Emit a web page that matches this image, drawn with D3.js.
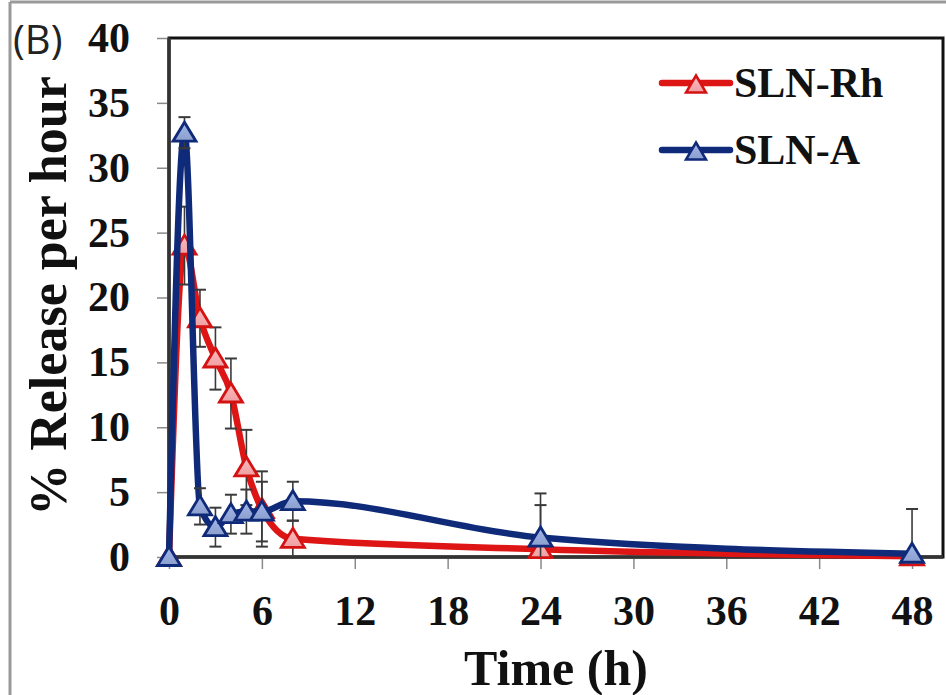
<!DOCTYPE html>
<html>
<head>
<meta charset="utf-8">
<script src="https://cdn.jsdelivr.net/npm/d3@7"></script>
<style>
  html, body { margin: 0; padding: 0; background: #fff; }
  svg { display: block; }
</style>
</head>
<body>
<script>
// ---- data ----
const times = [0, 1, 2, 3, 4, 5, 6, 8, 24, 48];
const rhValues = [0, 24.0, 18.4, 15.3, 12.6, 6.9, 3.7, 1.4, 0.6, 0.05];
const rhErrors = [0, 3.0, 2.2, 2.4, 2.7, 2.9, 2.9, 1.4, 3.4, 0];
const aValues = [0, 32.7, 3.9, 2.3, 3.3, 3.5, 3.5, 4.3, 1.5, 0.25];
const aErrors = [0, 1.2, 1.4, 1.5, 1.5, 1.7, 2.3, 1.5, 3.4, 3.45];
const seriesNames = ["SLN-Rh", "SLN-A"];
const xTicks = [0, 6, 12, 18, 24, 30, 36, 42, 48];
const yTicks = [0, 5, 10, 15, 20, 25, 30, 35, 40];

const W = 946, H = 695;
const svg = d3.select("body").append("svg").attr("width", W).attr("height", H);
svg.append("rect").attr("width", W).attr("height", H).attr("fill", "#fff");

// outer frame (gray)
svg.append("line").attr("x1", 10).attr("x2", 10).attr("y1", 2).attr("y2", H)
  .attr("stroke", "#9a9a9a").attr("stroke-width", 3);
svg.append("line").attr("x1", 10).attr("x2", W).attr("y1", 2).attr("y2", 2)
  .attr("stroke", "#9a9a9a").attr("stroke-width", 3);

const x = d3.scaleLinear().domain([0, 50]).range([169, 943]);
const y = d3.scaleLinear().domain([0, 40]).range([557, 38]);

const serif = "'Liberation Serif', 'Times New Roman', serif";

// plot border
svg.append("rect")
  .attr("x", x(0)).attr("y", y(40))
  .attr("width", x(50) - x(0)).attr("height", y(0) - y(40))
  .attr("fill", "none").attr("stroke", "#111").attr("stroke-width", 3);

// axes
const yAxis = svg.append("g").attr("transform", `translate(${x(0)},0)`)
  .call(d3.axisLeft(y).tickValues(yTicks).tickSize(12).tickPadding(27));
const xAxis = svg.append("g").attr("transform", `translate(0,${y(0)})`)
  .call(d3.axisBottom(x).tickValues(xTicks).tickSize(12).tickPadding(26));
[yAxis, xAxis].forEach(g => {
  g.select(".domain").remove();
  g.selectAll(".tick line").attr("stroke", "#8a8a8a").attr("stroke-width", 1.5);
  g.selectAll(".tick text").attr("fill", "#111")
    .style("font-family", serif).style("font-weight", "bold").style("font-size", "42px");
});

// left & bottom axis lines (dark)
svg.append("line").attr("x1", x(0)).attr("x2", x(0)).attr("y1", y(40)).attr("y2", y(0))
  .attr("stroke", "#333").attr("stroke-width", 3.5);
svg.append("line").attr("x1", x(0)).attr("x2", x(50)).attr("y1", y(0)).attr("y2", y(0))
  .attr("stroke", "#333").attr("stroke-width", 3.5);

// clip
svg.append("clipPath").attr("id", "plotclip").append("rect")
  .attr("x", x(0)).attr("y", y(40)).attr("width", x(50) - x(0)).attr("height", y(0) - y(40));

const series = [
  { name: seriesNames[0], values: rhValues, errors: rhErrors, line: "#dd1515", stroke: "#d41212", fill: "#eea0a4" },
  { name: seriesNames[1], values: aValues, errors: aErrors, line: "#0f2a78", stroke: "#0f2a78", fill: "#8c9fcd" }
];

const defs = svg.append("defs");
series.forEach((s, i) => {
  const g = defs.append("linearGradient").attr("id", "grad" + i)
    .attr("x1", 0).attr("y1", 0).attr("x2", 0).attr("y2", 1);
  g.append("stop").attr("offset", "0%").attr("stop-color", d3.color(s.fill).brighter(0.4));
  g.append("stop").attr("offset", "100%").attr("stop-color", s.fill);
});

const tri = (cx, cy, w = 23, h = 19) =>
  `M${cx},${cy - h / 2 - 1}L${cx + w / 2},${cy + h / 2 - 1}L${cx - w / 2},${cy + h / 2 - 1}Z`;

const lineGen = d3.line().x(d => x(d[0])).y(d => y(d[1])).curve(d3.curveMonotoneX);

series.forEach((s, i) => {
  const pts = times.map((t, k) => [t, s.values[k], s.errors[k]]);
  const g = svg.append("g");
  g.append("path").datum(pts).attr("d", lineGen)
    .attr("fill", "none").attr("stroke", s.line).attr("stroke-width", 6.5)
    .attr("stroke-linejoin", "round").attr("stroke-linecap", "round");
  const eb = g.append("g").attr("clip-path", "url(#plotclip)");
  pts.filter(d => d[2] > 0).forEach(d => {
    const cx = x(d[0]), top = y(d[1] + d[2]), bot = y(d[1] - d[2]);
    eb.append("line").attr("x1", cx).attr("x2", cx).attr("y1", top).attr("y2", bot)
      .attr("stroke", "#3a3a3a").attr("stroke-width", 1.6);
    [top, bot].forEach(yy => eb.append("line").attr("x1", cx - 6).attr("x2", cx + 6)
      .attr("y1", yy).attr("y2", yy).attr("stroke", "#3a3a3a").attr("stroke-width", 2));
  });
  g.selectAll("path.mk").data(pts).enter().append("path").attr("class", "mk")
    .attr("d", d => tri(x(d[0]), y(d[1])))
    .attr("fill", `url(#grad${i})`).attr("stroke", s.stroke).attr("stroke-width", 2.8)
    .attr("stroke-linejoin", "miter");
});

// legend
series.forEach((s, i) => {
  const ly = 83 + i * 67;
  const g = svg.append("g");
  g.append("line").attr("x1", 662).attr("x2", 730).attr("y1", ly).attr("y2", ly)
    .attr("stroke", s.line).attr("stroke-width", 6.5).attr("stroke-linecap", "round");
  g.append("path").attr("d", tri(696, ly + 2, 20, 17))
    .attr("fill", `url(#grad${i})`).attr("stroke", s.stroke).attr("stroke-width", 2.5);
  g.append("text").attr("x", 734).attr("y", ly + 14).text(s.name)
    .attr("fill", "#111").style("font-family", serif).style("font-weight", "bold").style("font-size", "42px");
});

// titles
svg.append("text").attr("x", 556).attr("y", 685).attr("text-anchor", "middle")
  .text("Time (h)").attr("fill", "#111")
  .style("font-family", serif).style("font-weight", "bold").style("font-size", "50px");
svg.append("text").attr("transform", "translate(66,296) rotate(-90)").attr("text-anchor", "middle")
  .text("% Release per hour").attr("fill", "#111")
  .style("font-family", serif).style("font-weight", "bold").style("font-size", "52px");
svg.append("text").attr("x", 13).attr("y", 54).text("(B)").attr("fill", "#222")
  .style("font-family", "'Open Sans', 'Liberation Sans', sans-serif").style("font-size", "40px");
</script>
</body>
</html>
